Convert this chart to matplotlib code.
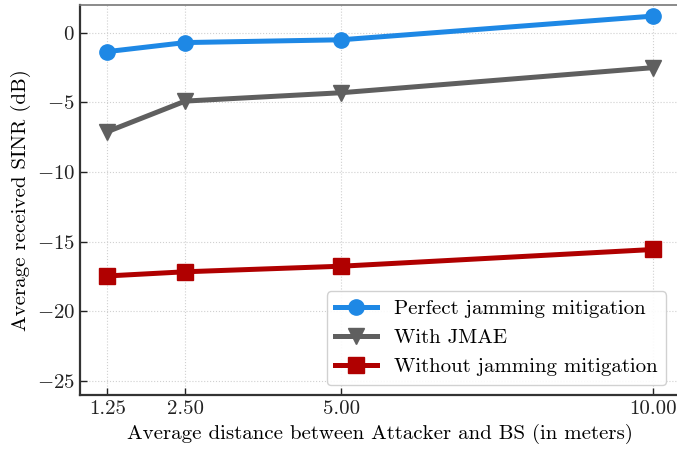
import matplotlib
matplotlib.use('Agg')
import matplotlib.pyplot as plt

# Data
distances = [1.25, 2.5, 5.0, 10.0]
tick_labels = ['1.25', '2.50', '5.00', '10.00']
perfect = [-1.35, -0.7, -0.5, 1.2]
with_jmae = [-7.1, -4.9, -4.3, -2.5]
without = [-17.45, -17.15, -16.75, -15.55]

plt.rcParams['font.family'] = 'cmr10'
plt.rcParams['mathtext.fontset'] = 'cm'
plt.rcParams['axes.formatter.use_mathtext'] = True
plt.rcParams['font.size'] = 15

fig = plt.figure(figsize=(6.77, 4.5), dpi=100)
ax = fig.add_axes([0.118, 0.122, 0.887, 0.867])

ax.plot(distances, perfect, color='#1e88e5', lw=3.6, marker='o', ms=11,
        label='Perfect jamming mitigation')
ax.plot(distances, with_jmae, color='#5f5f5f', lw=3.6, marker='v', ms=12,
        label='With JMAE')
ax.plot(distances, without, color='#b00000', lw=3.6, marker='s', ms=11,
        label='Without jamming mitigation')

ax.set_xticks(distances)
ax.set_xticklabels(tick_labels)
ax.set_ylim(-26, 2)
ax.set_yticks([0, -5, -10, -15, -20, -25])
ax.set_xlim(0.8125, 10.4375)

ax.grid(True, linestyle=':', color='#d0d0d0', linewidth=0.8)
ax.tick_params(direction='in', length=5, width=1, colors='#222222', labelsize=15)
for side in ['left', 'bottom']:
    ax.spines[side].set_linewidth(1.6)
    ax.spines[side].set_color('#333333')
ax.spines['top'].set_color('#777777')
ax.spines['top'].set_linewidth(1.2)

ax.set_xlabel('Average distance between Attacker and BS (in meters)', fontsize=15)
ax.set_ylabel('Average received SINR (dB)', fontsize=15)

leg = ax.legend(loc='lower right', fontsize=15, fancybox=True, framealpha=0.9,
                edgecolor='#cccccc', bbox_to_anchor=(0.993, 0.0))

fig.savefig('out.png', dpi=100)
